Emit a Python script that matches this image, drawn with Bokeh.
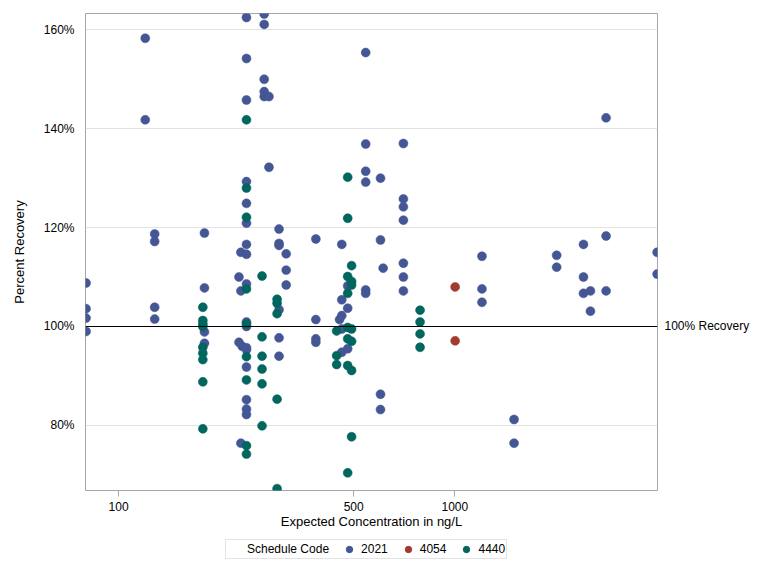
from bokeh.plotting import figure
from bokeh.layouts import column
from bokeh.embed import file_html
from bokeh.resources import INLINE
from bokeh.models import (Legend, LegendItem, Span, FixedTicker, LinearAxis,
                          PrintfTickFormatter, NumeralTickFormatter, Range1d)

# ---- data ----
# Schedule 2021
x_2021 = ([80]*4 + [120]*2 + [128]*4 + [180]*4 + [228]*2 + [231]*3 + [233] +
          [240]*17 + [271]*5 + [280]*2 + [300]*6 + [315]*3 + [386]*4 + [454] +
          [461]*5 + [480]*3 + [543]*6 + [601]*4 + [612] + [703]*7 + [1204]*3 +
          [1500]*2 + [2008]*2 + [2413]*3 + [2531]*2 + [2817]*3 + [3995]*2)
y_2021 = [108.8, 103.6, 101.7, 99.0,
          158.3, 141.8,
          118.7, 117.2, 103.9, 101.5,
          118.9, 107.8, 98.9, 96.6,
          110.0, 96.8,
          115.0, 107.2, 76.4,
          96.0,
          162.5, 154.2, 145.8, 129.3, 124.9, 120.9, 116.6, 114.6, 108.6, 100.9,
          100.0, 95.7, 95.3, 91.8, 85.2, 83.3, 82.2,
          163.2, 161.1, 150.0, 147.5, 146.5,
          146.5, 132.2,
          119.7, 116.8, 116.4, 103.4, 97.7, 94.0,
          114.7, 111.4, 108.4,
          117.7, 101.4, 97.5, 96.8,
          101.4,
          116.6, 105.4, 102.2, 99.5, 94.8,
          108.2, 103.7, 95.5,
          155.4, 136.9, 131.4, 129.2, 107.4, 106.7,
          130.0, 117.5, 86.3, 83.2,
          111.8,
          137.0, 125.8, 124.2, 121.5, 112.8, 110.0, 107.2,
          114.2, 107.6, 104.9,
          81.2, 76.4,
          114.4, 112.0,
          116.6, 110.0, 106.7,
          107.2, 103.1,
          142.2, 118.3, 107.2,
          115.0, 110.6]

# Schedule 4054
x_4054 = [1002, 1002]
y_4054 = [108.0, 97.1]

# Schedule 4440
x_4440 = ([178]*9 + [240]*9 + [267]*6 + [296]*5 + [445]*3 + [480]*8 +
          [493]*7 + [788]*4)
y_4440 = [103.9, 101.2, 100.5, 100.0, 95.8, 94.6, 93.3, 88.8, 79.3,
          141.8, 128.0, 122.1, 107.6, 100.5, 93.9, 89.2, 75.9, 74.2,
          110.2, 97.9, 94.0, 91.4, 88.4, 79.9,
          105.5, 104.7, 102.6, 85.3, 67.2,
          99.1, 94.1, 92.3,
          130.2, 121.9, 110.1, 106.7, 99.8, 97.5, 92.1, 70.4,
          112.3, 109.1, 108.4, 99.5, 97.0, 91.1, 77.7,
          103.3, 100.9, 98.5, 95.8]

x_ticks = [100, 500, 1000]
y_ticks = [80, 100, 120, 140, 160]
series_names = ["2021", "4054", "4440"]
series_colors = ["#445694", "#A23A2E", "#01665E"]
legend_title = "Schedule Code"
reference_value = 100
reference_text = "100% Recovery"

FONT = "Liberation Sans"
AXIS_GREY = "#a3a7ab"

x_start, x_end = 79.7, 4006
p = figure(width=752, height=535, x_axis_type="log",
           x_range=Range1d(x_start, x_end), y_range=Range1d(66.83, 163.3),
           output_backend="svg", toolbar_location=None,
           min_border_left=85, min_border_right=92,
           min_border_top=13, min_border_bottom=45)

p.background_fill_color = "white"
p.border_fill_color = "white"
p.outline_line_color = AXIS_GREY
p.outline_line_width = 1

# grid
p.xgrid.grid_line_color = None
p.ygrid.grid_line_color = "#e2e2e2"
p.ygrid.ticker = FixedTicker(ticks=y_ticks)

# x axis
xax = p.below[0]
xax.ticker = FixedTicker(ticks=x_ticks)
xax.formatter = NumeralTickFormatter(format="0")
xax.axis_label = "Expected Concentration in ng/L"
xax.axis_line_color = None
xax.major_tick_line_color = AXIS_GREY
xax.major_tick_out = 6
xax.major_tick_in = 0
xax.minor_tick_line_color = None
xax.major_label_standoff = 5
xax.axis_label_standoff = 0

# y axis
yax = p.left[0]
yax.ticker = FixedTicker(ticks=y_ticks)
yax.formatter = PrintfTickFormatter(format="%d%%")
yax.axis_label = "Percent Recovery"
yax.axis_line_color = None
yax.major_tick_line_color = None
yax.major_tick_out = 0
yax.major_tick_in = 0
yax.minor_tick_line_color = None
yax.major_label_standoff = 11
yax.axis_label_standoff = 14

for ax in (xax, yax):
    ax.major_label_text_font = FONT
    ax.major_label_text_font_size = "12px"
    ax.major_label_text_color = "black"
    ax.axis_label_text_font = FONT
    ax.axis_label_text_font_size = "13px"
    ax.axis_label_text_font_style = "normal"
    ax.axis_label_text_color = "black"

# reference line and its label (label drawn as a right-hand axis tick label)
p.add_layout(Span(location=reference_value, dimension="width",
                  line_color="black", line_width=1))
ref_axis = LinearAxis(ticker=FixedTicker(ticks=[reference_value]),
                      major_label_overrides={reference_value: reference_text},
                      axis_line_color=None, major_tick_line_color=None,
                      minor_tick_line_color=None,
                      major_tick_out=0, major_tick_in=0,
                      major_label_standoff=7,
                      major_label_text_font=FONT,
                      major_label_text_font_size="12px",
                      major_label_text_color="black")
p.add_layout(ref_axis, "right")

# points
renderers = []
for xs, ys, c in ((x_2021, y_2021, series_colors[0]),
                  (x_4054, y_4054, series_colors[1]),
                  (x_4440, y_4440, series_colors[2])):
    r = p.scatter(xs, ys, size=9, marker="circle", fill_color=c,
                  line_color=c, line_width=0.5)
    renderers.append(r)

# ---- legend strip (separate small figure below the plot) ----
lg = figure(width=752, height=25, output_backend="svg", toolbar_location=None,
            x_range=Range1d(0, 1), y_range=Range1d(0, 1),
            x_axis_location=None, y_axis_location=None, min_border=0)
lg.grid.grid_line_color = None
lg.outline_line_color = None
lg.background_fill_color = "white"
lg.border_fill_color = "white"

# legend-only renderers: one point each, outside the strip's visible range
title_r = lg.scatter(x=[-5], y=[-5], size=1, fill_alpha=0, line_alpha=0)
items = [LegendItem(label=legend_title, renderers=[title_r])]
for n, c in zip(series_names, series_colors):
    lr = lg.scatter(x=[-5], y=[-5], marker="circle", fill_color=c, line_color=c)
    items.append(LegendItem(label=n, renderers=[lr]))

legend = Legend(items=items, orientation="horizontal", location=(140, 1),
                border_line_color="#c8c8c8", background_fill_color="white",
                padding=1, margin=0, spacing=12,
                glyph_width=16, glyph_height=16, label_height=14,
                label_standoff=4, label_text_color="black",
                label_text_font=FONT, label_text_font_size="12px")
lg.add_layout(legend, "center")

layout = column(p, lg, spacing=0)
open("out.html", "w").write(file_html(layout, INLINE))
